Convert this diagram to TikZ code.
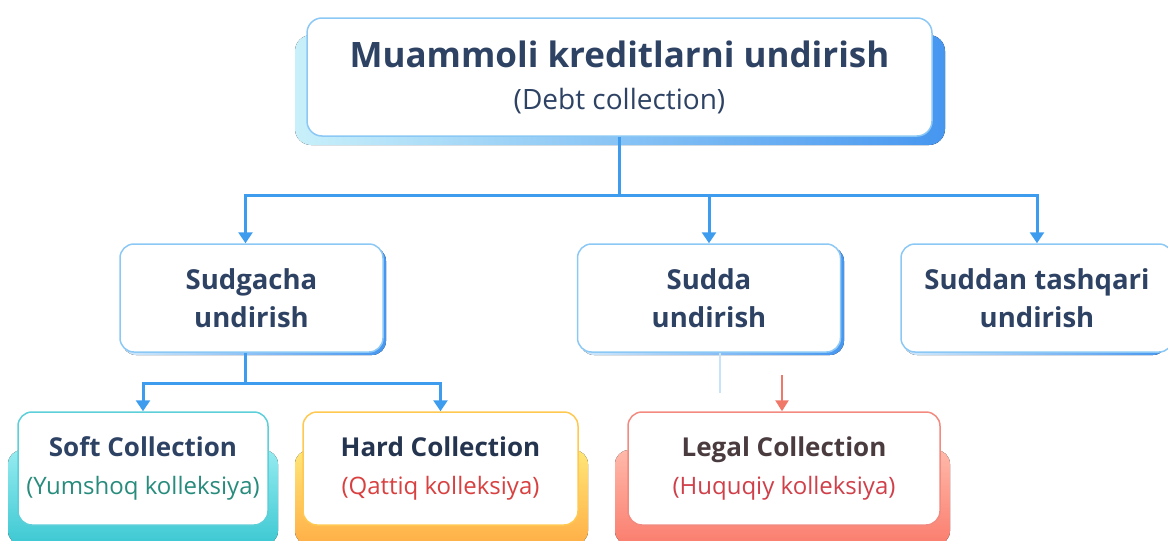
\documentclass[tikz,border=0pt]{standalone}
\usepackage{fontspec}
\setmainfont{Open Sans}
\usetikzlibrary{arrows.meta}
\definecolor{navy}{RGB}{46,66,100}
\definecolor{skyline}{RGB}{62,156,238}
\definecolor{paleblue}{RGB}{140,200,245}
\definecolor{shadeblue}{RGB}{70,150,240}
\definecolor{glowcyan}{RGB}{200,240,250}
\definecolor{softgreen}{RGB}{40,140,125}
\definecolor{softedge}{RGB}{92,207,216}
\definecolor{softtop}{RGB}{150,235,240}
\definecolor{softbot}{RGB}{60,200,210}
\definecolor{hardred}{RGB}{217,64,64}
\definecolor{hardedge}{RGB}{255,200,80}
\definecolor{hardtop}{RGB}{255,230,120}
\definecolor{hardbot}{RGB}{255,175,70}
\definecolor{legalred}{RGB}{208,64,74}
\definecolor{legaldark}{RGB}{74,59,63}
\definecolor{legaledge}{RGB}{242,138,128}
\definecolor{legaltop}{RGB}{255,185,170}
\definecolor{legalbot}{RGB}{250,125,110}
\definecolor{redarrow}{RGB}{240,120,104}
\begin{document}
\begin{tikzpicture}[x=1pt, y=-1pt,
  mainbox/.style={rectangle, draw=paleblue, line width=1.5pt, rounded corners=15pt,
                  fill=white, minimum width=625pt, minimum height=118pt, align=center,
                  text=navy, font=\fontsize{28}{42}\selectfont},
  midbox/.style={rectangle, draw=paleblue, line width=1.5pt, rounded corners=14pt,
                 fill=white, minimum width=263pt, minimum height=108pt, align=center,
                 text=navy, font=\fontsize{27.5}{38}\selectfont\bfseries},
  lowbox/.style={rectangle, line width=1.5pt, rounded corners=14pt, fill=white,
                 minimum width=250pt, minimum height=113pt, align=center,
                 font=\fontsize{24}{38}\selectfont},
  arr/.style={-{Triangle[width=14pt,length=11pt]}, line width=3pt, skyline},
  link/.style={line width=3pt, skyline},
  redarr/.style={-{Triangle[width=13pt,length=11pt]}, line width=2.5pt, redarrow}
]
\useasboundingbox (0,0) rectangle (1168,541);

% shadows
\fill[rounded corners=16pt, left color=glowcyan, right color=shadeblue] (295,35) rectangle (945,145);
\foreach \x in {122,580,903}
  \fill[rounded corners=14pt, left color=paleblue!40, right color=shadeblue] (\x,247) rectangle ++(264,108);
\fill[rounded corners=14pt, top color=softtop, bottom color=softbot] (8,450) rectangle (278,545);
\fill[rounded corners=14pt, top color=hardtop, bottom color=hardbot] (295,450) rectangle (588,545);
\fill[rounded corners=14pt, top color=legaltop, bottom color=legalbot] (615,450) rectangle (950,545);

% boxes
\node[mainbox] (main) at (619.5,77)
  {{\fontsize{35}{42}\selectfont\bfseries Muammoli kreditlarni undirish}\\(Debt collection)};
\node[midbox] (pre) at (251.5,298) {Sudgacha\\undirish};
\node[midbox] (court) at (709,298) {Sudda\\undirish};
\node[midbox, minimum width=272pt] (outside) at (1037,298) {Suddan tashqari\\undirish};
\node[lowbox, draw=softedge] (soft) at (143,468.5)
  {{\fontsize{26}{38}\selectfont\bfseries\color{navy}Soft Collection}\\\textcolor{softgreen}{(Yumshoq kolleksiya)}};
\node[lowbox, draw=hardedge, minimum width=275pt] (hard) at (440.5,468.5)
  {{\fontsize{26}{38}\selectfont\bfseries\color{navy!80!black}Hard Collection}\\\textcolor{hardred}{(Qattiq kolleksiya)}};
\node[lowbox, draw=legaledge, minimum width=312pt] (legal) at (784,468.5)
  {{\fontsize{26}{38}\selectfont\bfseries\color{legaldark}Legal Collection}\\\textcolor{legalred}{(Huquqiy kolleksiya)}};

% connectors
\draw[link] (main.south) -- ++(0,59) coordinate (hub);
\draw[arr] (hub) -| ([xshift=-6pt]pre.north);
\draw[arr] (hub) -| (court.north);
\draw[arr] (hub) -| (outside.north);
\draw[link] ([xshift=-6pt]pre.south) -- ++(0,31) coordinate (split);
\draw[arr] (split) -| (soft.north);
\draw[arr] (split) -| (hard.north);
\draw[paleblue!50, line width=1.2pt] ([xshift=11pt]court.south) -- ++(0,40);
\draw[redarr] ([xshift=-2pt,yshift=36pt]legal.north) -- ([xshift=-2pt]legal.north);
\end{tikzpicture}
\end{document}
